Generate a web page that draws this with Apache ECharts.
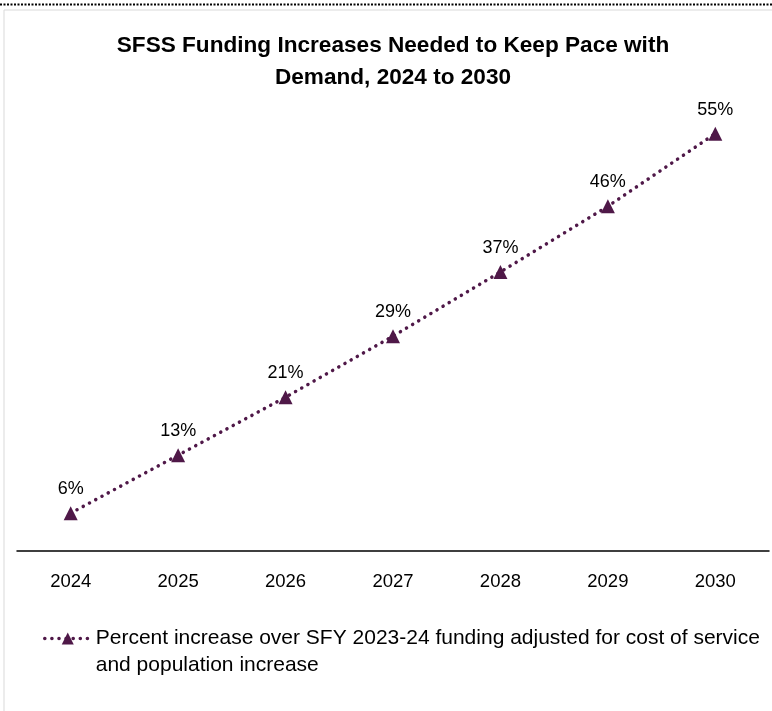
<!DOCTYPE html>
<html>
<head>
<meta charset="utf-8">
<script src="https://cdn.jsdelivr.net/npm/echarts@6/dist/echarts.min.js"></script>
<style>
html,body{margin:0;padding:0;background:#fff;}
#chart{width:772px;height:711px;}
</style>
</head>
<body>
<div id="chart"></div>
<script>
const categories = ['2024', '2025', '2026', '2027', '2028', '2029', '2030'];
const percentIncrease = [5.9, 13.4, 20.9, 28.8, 37.1, 45.6, 55.0];
const seriesName = 'Percent increase over SFY 2023-24 funding adjusted for cost of service and population increase';
const titleText = 'SFSS Funding Increases Needed to Keep Pace with\nDemand, 2024 to 2030';

const purple = '#4f1848';
const chart = echarts.init(document.getElementById('chart'), null, {renderer: 'canvas'});
chart.setOption({
  animation: false,
  backgroundColor: '#fff',
  title: {
    text: titleText,
    left: 388,
    textAlign: 'center',
    top: 25,
    textStyle: {fontFamily: 'Liberation Sans', fontWeight: 'bold', fontSize: 22.6, lineHeight: 32, color: '#000'}
  },
  grid: {left: 17, right: 3, top: 95, bottom: 160, containLabel: false},
  xAxis: {
    type: 'category',
    data: categories,
    boundaryGap: true,
    axisLine: {lineStyle: {color: '#000', width: 1.5}},
    axisTick: {show: false},
    axisLabel: {color: '#000', fontFamily: 'Liberation Sans', fontSize: 18.5, margin: 21}
  },
  yAxis: {
    type: 'value',
    min: 1,
    max: 60,
    show: false,
    splitLine: {show: false}
  },
  legend: {
    left: 38,
    top: 593,
    itemWidth: 46,
    itemHeight: 15,
    itemGap: 4,
    lineStyle: {width: 3.5, type: [0.1, 7], cap: 'round', color: purple},
    formatter: name => ' \n' + name,
    textStyle: {fontFamily: 'Liberation Sans', fontSize: 21, color: '#000', width: 680, overflow: 'break', lineHeight: 27},
    data: [seriesName]
  },
  series: [{
    name: seriesName,
    type: 'line',
    data: percentIncrease,
    symbol: 'triangle',
    symbolSize: 14,
    itemStyle: {color: purple},
    lineStyle: {color: purple, width: 3.5, type: [0.1, 7], cap: 'round'},
    label: {
      show: true,
      position: 'top',
      distance: 8,
      color: '#000',
      fontFamily: 'Liberation Sans',
      fontSize: 18,
      formatter: p => Math.round(p.value) + '%'
    }
  }],
  graphic: [
    {type: 'rect', shape: {x: 4, y: 10, width: 800, height: 720}, style: {fill: 'none', stroke: '#d9d9d9', lineWidth: 1}, silent: true, z: -1},
    {type: 'line', shape: {x1: 0, y1: 4.5, x2: 772, y2: 4.5}, style: {stroke: '#000', lineWidth: 2, lineDash: [2, 1.5]}, silent: true}
  ]
});
</script>
</body>
</html>
